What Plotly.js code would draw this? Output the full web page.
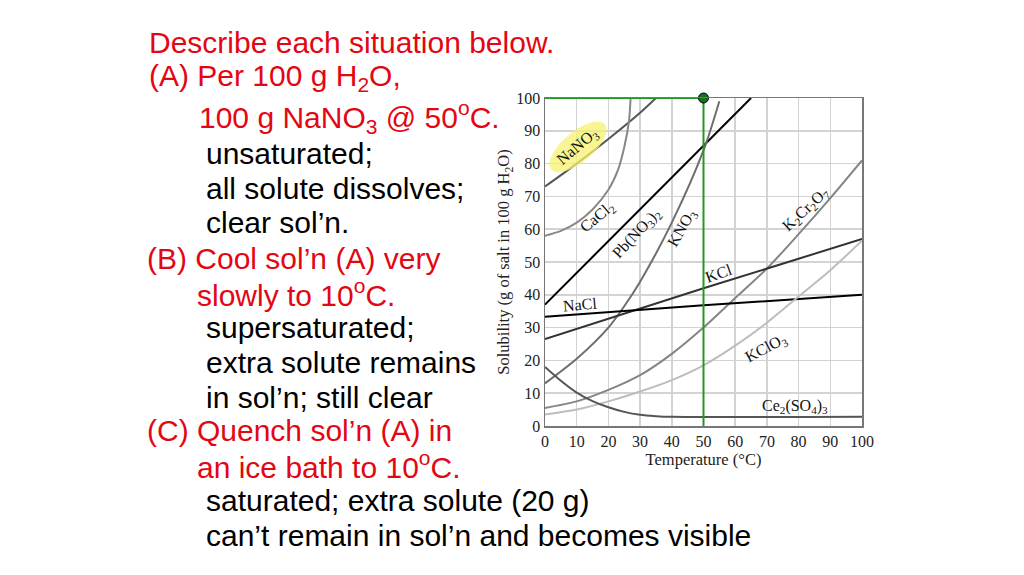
<!DOCTYPE html>
<html>
<head>
<meta charset="utf-8">
<script src="https://cdn.plot.ly/plotly-3.0.1.min.js"></script>
<style>
  html, body { margin: 0; padding: 0; background: #fff; }
  #chart { width: 1024px; height: 575px; }
</style>
</head>
<body>
<div id="chart"></div>
<script>
// solubility curves, temperature in degC, solubility in g per 100 g water

const tNaNO3 = [0, 10, 20, 30, 35];
const sNaNO3 = [73, 80, 87.5, 95.5, 100];

const tCaCl2 = [0, 5, 10, 15, 20, 23, 25, 26.5, 27];
const sCaCl2 = [58, 59.5, 62, 66, 72, 78, 85, 93, 100];

const tPbNO3 = [0, 65];
const sPbNO3 = [37, 100];

const tKNO3 = [0, 10, 20, 25, 30, 40, 50, 55];
const sKNO3 = [13, 20.5, 30, 36.5, 44, 62, 84, 99];

const tK2Cr2O7 = [0, 10, 20, 30, 40, 50, 60, 70, 80, 90, 100];
const sK2Cr2O7 = [5.5, 7.5, 11, 15.5, 22, 30, 39, 48, 58.5, 69.5, 81];

const tKCl = [0, 50, 100];
const sKCl = [26.5, 42, 57];

const tNaCl = [0, 50, 100];
const sNaCl = [33.3, 36.8, 40];

const tKClO3 = [0, 10, 20, 30, 40, 50, 60, 70, 80, 90, 100];
const sKClO3 = [3.5, 5, 7.5, 10.5, 14, 18.5, 24.5, 31.5, 39.5, 47.5, 56.5];

const tCe = [0, 5, 10, 15, 20, 25, 30, 35, 40, 100];
const sCe = [18, 13.8, 10.2, 7.6, 5.7, 4.3, 3.4, 3, 2.8, 2.8];

// the 100 g NaNO3 at 50 degC point
const markT = [50];
const markS = [100];

const tickVals = [0, 10, 20, 30, 40, 50, 60, 70, 80, 90, 100];

// text on the left of the slide
const slideLines = [
  'Describe each situation below.',
  '(A) Per 100 g H<sub>2</sub>O,',
  '100 g NaNO<sub>3</sub> @ 50<sup>o</sup>C.',
  'unsaturated;',
  'all solute dissolves;',
  'clear sol\u2019n.',
  '(B) Cool sol\u2019n (A) very',
  'slowly to 10<sup>o</sup>C.',
  'supersaturated;',
  'extra solute remains',
  'in sol\u2019n; still clear',
  '(C) Quench sol\u2019n (A) in',
  'an ice bath to 10<sup>o</sup>C.',
  'saturated; extra solute (20 g)',
  'can\u2019t remain in sol\u2019n and becomes visible'
];
const slideRed = [true, true, true, false, false, false, true, true, false, false, false, true, true, false, false];
const slideX = [147, 147, 197, 204, 204, 204, 145, 195, 204, 204, 204, 145, 195, 204, 204];
const slideY = [42, 77, 117, 153, 188, 222, 258, 293, 327, 362, 397, 431, 465, 500, 535];

// curve labels
const labelText = ['NaNO<sub>3</sub>', 'CaCl<sub>2</sub>', 'Pb(NO<sub>3</sub>)<sub>2</sub>', 'KNO<sub>3</sub>',
  'K<sub>2</sub>Cr<sub>2</sub>O<sub>7</sub>', 'KCl', 'NaCl', 'KClO<sub>3</sub>', 'Ce<sub>2</sub>(SO<sub>4</sub>)<sub>3</sub>'];
const labelT = [10.4, 16.4, 29.0, 43.5, 82.3, 54.6, 11.0, 69.7, 78.9];
const labelS = [85.1, 63.7, 58.6, 60.4, 65.9, 46.6, 36.9, 23.7, 6.0];
const labelAngle = [-40, -40, -47, -60, -43, -20, -5, -28, 0];

// plot area in page pixels
const plotL = 545, plotR = 862, plotT = 98, plotB = 426;
const pxPerT = (plotR - plotL) / 100;
const pxPerS = (plotB - plotT) / 100;

const serif = 'Liberation Serif, DejaVu Serif, serif';
const sans = 'Liberation Sans, Arial, sans-serif';
const green = '#1f9a26';

function curve(t, s, color, width, smooth) {
  return {
    x: t, y: s, mode: 'lines', hoverinfo: 'skip', showlegend: false,
    line: { color: color, width: width, shape: smooth ? 'spline' : 'linear', smoothing: 0.8 }
  };
}

let data = [
  curve(tNaNO3, sNaNO3, '#555', 2, true),
  curve(tCaCl2, sCaCl2, '#888', 2, true),
  curve(tPbNO3, sPbNO3, '#000', 2, false),
  curve(tKNO3, sKNO3, '#6e6e6e', 2, true),
  curve(tK2Cr2O7, sK2Cr2O7, '#858585', 2, true),
  curve(tKCl, sKCl, '#333', 2, true),
  curve(tNaCl, sNaCl, '#000', 2, true),
  curve(tKClO3, sKClO3, '#bdbdbd', 2, true),
  curve(tCe, sCe, '#555', 2, true),
  // green guide lines
  curve([0, markT[0]], [markS[0], markS[0]], green, 2, false),
  curve([markT[0], markT[0]], [0, markS[0]], green, 2, false),
  {
    x: markT, y: markS, mode: 'markers', hoverinfo: 'skip', showlegend: false, cliponaxis: false,
    marker: { color: '#17701b', size: 10, line: { color: '#000', width: 1 } }
  }
];

// yellow highlight round the NaNO3 label
function ellipsePath(cT, cS, rx, ry, deg) {
  const a = deg * Math.PI / 180;
  let p = '';
  for (let i = 0; i <= 48; i++) {
    const u = i / 48 * 2 * Math.PI;
    const dx = rx * Math.cos(u) * Math.cos(a) - ry * Math.sin(u) * Math.sin(a);
    const dy = rx * Math.cos(u) * Math.sin(a) + ry * Math.sin(u) * Math.cos(a);
    p += (i === 0 ? 'M' : 'L') + (cT + dx / pxPerT).toFixed(3) + ',' + (cS + dy / pxPerS).toFixed(3);
  }
  return p + 'Z';
}

let shapes = [{
  type: 'path', xref: 'x', yref: 'y', layer: 'above',
  path: ellipsePath(labelT[0], labelS[0], 35, 15, 40),
  fillcolor: 'rgba(246,242,110,0.75)', line: { width: 0 }
}];

let annotations = [];
for (let i = 0; i < labelText.length; i++) {
  annotations.push({
    x: labelT[i], y: labelS[i], xref: 'x', yref: 'y', text: labelText[i],
    showarrow: false, textangle: labelAngle[i],
    font: { family: serif, size: 16, color: '#111' }
  });
}

for (let i = 0; i < slideLines.length; i++) {
  annotations.push({
    x: (slideX[i] - plotL) / (plotR - plotL), y: (plotB - slideY[i]) / (plotB - plotT),
    xref: 'paper', yref: 'paper', xanchor: 'left', yanchor: 'middle',
    text: slideLines[i], showarrow: false, align: 'left',
    font: { family: sans, size: 30, color: slideRed[i] ? '#e30613' : '#000' }
  });
}

const axisBase = {
  range: [0, 100], autorange: false, tickvals: tickVals,
  showgrid: true, gridcolor: '#d3d3d3', gridwidth: 1.5,
  showline: true, linecolor: '#777', linewidth: 1.5, mirror: true,
  zeroline: false, ticks: '', fixedrange: true,
  tickfont: { family: serif, size: 16, color: '#222' }
};

let layout = {
  width: 1024, height: 575,
  margin: { l: plotL, r: 1024 - plotR, t: plotT, b: 575 - plotB },
  paper_bgcolor: '#fff', plot_bgcolor: '#fff',
  showlegend: false, hovermode: false,
  xaxis: Object.assign({}, axisBase, {
    title: { text: 'Temperature (°C)', font: { family: serif, size: 16.5, color: '#222' }, standoff: 4 }
  }),
  yaxis: Object.assign({}, axisBase, {
    title: { text: 'Solubility (g of salt in 100 g H<sub>2</sub>O)', font: { family: serif, size: 16.5, color: '#222' }, standoff: 2 }
  }),
  shapes: shapes,
  annotations: annotations
};

Plotly.newPlot('chart', data, layout, { staticPlot: true });
</script>
</body>
</html>
